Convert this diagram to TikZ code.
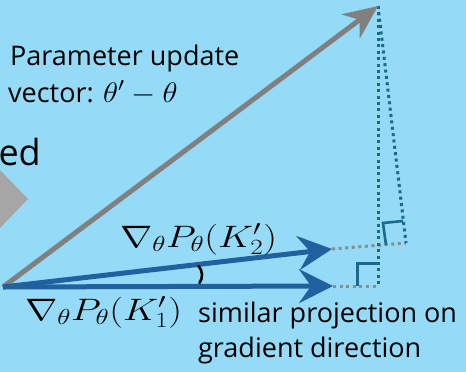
\RequirePackage{fix-cm}
\documentclass[tikz,border=0pt]{standalone}
\usepackage{fontspec}
\usepackage{graphicx}
\setmainfont{Open Sans}
\usetikzlibrary{arrows.meta,calc}
\definecolor{bgblue}{HTML}{95DAF6}
\definecolor{vecblue}{HTML}{2161A0}
\definecolor{dteal}{HTML}{1B6A8C}
\definecolor{vecgray}{HTML}{808080}
\definecolor{dotgray}{HTML}{8C8C8C}
\definecolor{trigray}{HTML}{A6A6A6}
\tikzset{
  bluevec/.style={draw=vecblue,line width=5pt,-{Stealth[length=34pt,width=34pt,inset=12pt]}},
  grayvec/.style={draw=vecgray,line width=5pt,-{Stealth[length=34pt,width=30pt,inset=11pt]}},
  tealdots/.style={draw=dteal,line width=3pt,dash pattern=on 3pt off 3.4pt},
  graydots/.style={draw=dotgray,line width=3pt,dash pattern=on 3pt off 3.6pt},
  rightmark/.style={draw=dteal,line width=2.6pt},
  txt/.style={anchor=base west,inner sep=0pt,font=\fontsize{27}{31}\selectfont},
  mathlbl/.style={anchor=base west,inner sep=0pt,font=\fontsize{31}{36}\selectfont},
}
\begin{document}
\begin{tikzpicture}[x=1pt,y=-1pt]
\fill[bgblue] (0,0) rectangle (466,372);
\useasboundingbox (0,0) rectangle (466,372);
% clipped big gray arrow tip
\fill[trigray] (0,170) -- (28,199) -- (0,228) -- cycle;
\node[anchor=base east,inner sep=0pt,font=\fontsize{36}{40}\selectfont] (ed) at (41,165) {ed};
% points
\coordinate (O) at (3,287);
\coordinate (G) at (378,6);
\coordinate (A1) at (333,286);
\coordinate (A2) at (332,249);
\coordinate (P1) at (378,286);
\coordinate (P2) at (406,243);
% dotted projections
\draw[graydots] (A1) -- (P1);
\draw[graydots] (A2) -- (P2);
\draw[tealdots] (G) -- (P1);
\draw[tealdots] (G) -- (P2);
% right angle marks
\draw[rightmark] (357.5,286) -- (357.5,263.5) -- (378,263.5);
\draw[rightmark] (386,245) -- (383,223) -- (403,221);
% vectors
\draw[grayvec] (O) -- (G);
\draw[bluevec] (O) -- (A1);
\draw[bluevec] (O) -- (A2);
% angle arc
\draw[line width=2.6pt,black,line cap=round] (198.5,266) .. controls (203,271) and (203,278) .. (199.5,283);
% texts
\node[txt] (t1) at (10,65) {Parameter update};
\node[txt] (t2) at (8,102) {vector: \scalebox{1.15}[1.05]{$\theta'-\theta$}};
\node[mathlbl] (k2) at (120,247) {\scalebox{1.25}[1]{$\nabla_\theta P_\theta(K_2')$}};
\node[mathlbl] (k1) at (25,320) {\scalebox{1.25}[1]{$\nabla_\theta P_\theta(K_1')$}};
\node[txt] (s1) at (198,322) {similar projection on};
\node[txt] (s2) at (198,357) {gradient direction};
\end{tikzpicture}
\end{document}
